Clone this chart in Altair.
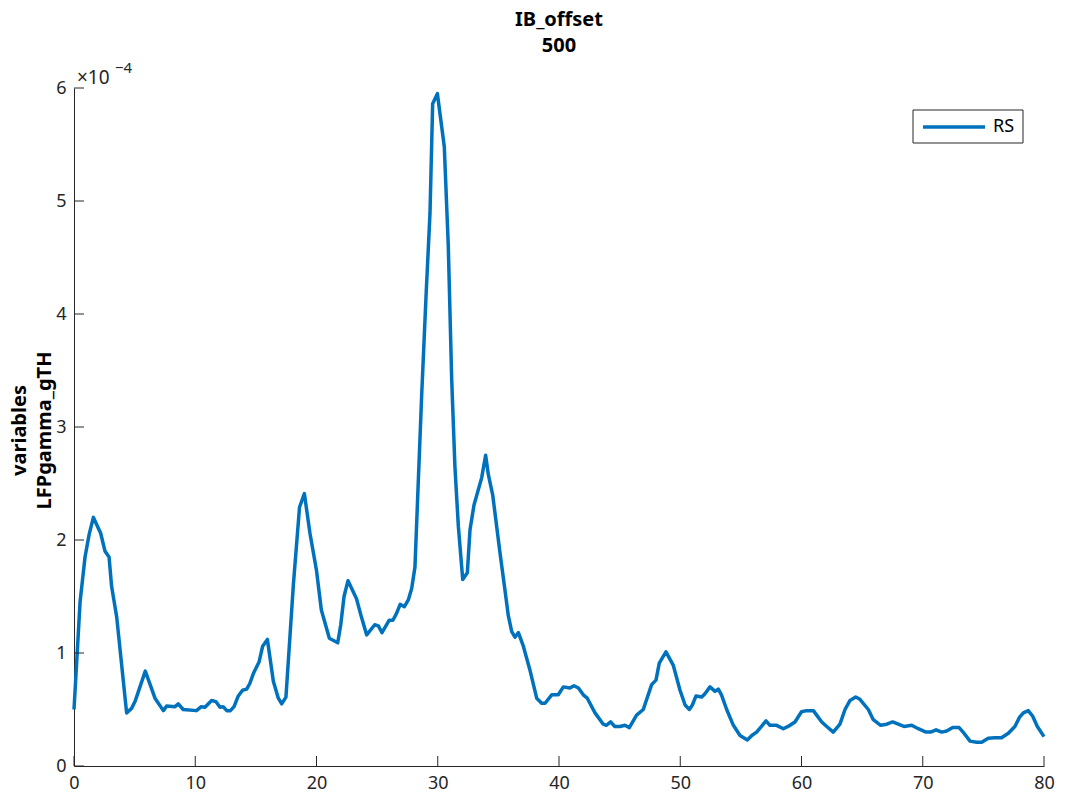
import altair as alt
import pandas as pd

# frequency (x) and LFPgamma_gTH value in units of 1e-4 (y)
freq = [0.0, 0.5, 0.91, 1.25, 1.6, 2.2, 2.56, 2.89, 3.1, 3.52,
        4.34, 4.75, 5.03, 5.88, 6.68, 7.37, 7.64, 8.33, 8.6, 9.0,
        10.1, 10.5, 10.8, 11.35, 11.7, 12.04, 12.3, 12.6, 12.9, 13.2,
        13.55, 13.9, 14.24, 14.5, 14.8, 15.26, 15.56, 15.95, 16.44, 16.85,
        17.13, 17.48, 18.09, 18.6, 19.0, 19.46, 20.0, 20.4, 21.06, 21.75,
        22.0, 22.27, 22.6, 23.3, 23.7, 24.14, 24.8, 25.1, 25.4, 26.0,
        26.3, 26.6, 26.9, 27.25, 27.57, 27.85, 28.12, 28.4, 28.67, 29.03,
        29.36, 29.58, 29.97, 30.54, 30.87, 31.15, 31.42, 31.7, 32.06, 32.44,
        32.66, 32.99, 33.62, 33.95, 34.17, 34.53, 35.13, 35.55, 35.82, 36.1,
        36.37, 36.65, 37.06, 37.6, 38.16, 38.57, 38.85, 39.4, 39.94, 40.36,
        40.9, 41.24, 41.6, 42.0, 42.33, 42.97, 43.65, 43.9, 44.26, 44.6,
        45.03, 45.44, 45.8, 46.4, 46.95, 47.64, 48.0, 48.27, 48.82, 49.43,
        49.98, 50.4, 50.75, 51.0, 51.3, 51.77, 52.04, 52.45, 52.87, 53.14,
        53.4, 53.83, 54.38, 54.93, 55.53, 55.9, 56.3, 56.7, 57.07, 57.4,
        57.95, 58.5, 59.05, 59.46, 60.0, 60.43, 60.98, 61.25, 61.67, 62.08,
        62.62, 63.17, 63.59, 64.0, 64.47, 64.82, 65.51, 65.92, 66.53, 67.03,
        67.52, 67.99, 68.45, 69.09, 69.63, 70.27, 70.65, 71.1, 71.56, 71.97,
        72.47, 73.0, 73.4, 73.9, 74.45, 74.86, 75.4, 75.96, 76.5, 77.06,
        77.6, 77.97, 78.3, 78.7, 79.07, 79.45, 80.0]

value = [0.50, 1.45, 1.85, 2.05, 2.20, 2.06, 1.90, 1.85, 1.59, 1.32,
         0.47, 0.51, 0.57, 0.84, 0.60, 0.49, 0.53, 0.525, 0.55, 0.50,
         0.49, 0.525, 0.52, 0.58, 0.57, 0.52, 0.525, 0.49, 0.49, 0.525,
         0.62, 0.67, 0.68, 0.73, 0.82, 0.92, 1.06, 1.12, 0.75, 0.60,
         0.55, 0.61, 1.60, 2.29, 2.41, 2.06, 1.73, 1.38, 1.13, 1.09,
         1.25, 1.50, 1.64, 1.48, 1.32, 1.16, 1.25, 1.24, 1.18, 1.29,
         1.29, 1.35, 1.43, 1.41, 1.47, 1.57, 1.76, 2.53, 3.27, 4.15,
         4.89, 5.86, 5.95, 5.48, 4.60, 3.42, 2.64, 2.12, 1.65, 1.71,
         2.09, 2.31, 2.55, 2.75, 2.58, 2.40, 1.89, 1.55, 1.33, 1.19,
         1.14, 1.18, 1.06, 0.85, 0.60, 0.555, 0.555, 0.63, 0.63, 0.70,
         0.69, 0.71, 0.69, 0.63, 0.60, 0.47, 0.37, 0.36, 0.39, 0.35,
         0.35, 0.36, 0.34, 0.45, 0.50, 0.72, 0.76, 0.91, 1.01, 0.89,
         0.67, 0.54, 0.50, 0.54, 0.62, 0.61, 0.64, 0.70, 0.66, 0.68,
         0.63, 0.50, 0.36, 0.27, 0.23, 0.27, 0.30, 0.35, 0.40, 0.36,
         0.36, 0.33, 0.36, 0.39, 0.48, 0.49, 0.49, 0.45, 0.39, 0.35,
         0.30, 0.37, 0.50, 0.58, 0.61, 0.59, 0.50, 0.41, 0.36, 0.37,
         0.39, 0.37, 0.35, 0.36, 0.33, 0.30, 0.30, 0.32, 0.30, 0.31,
         0.34, 0.34, 0.29, 0.22, 0.21, 0.21, 0.245, 0.25, 0.25, 0.29,
         0.35, 0.43, 0.47, 0.49, 0.44, 0.35, 0.26]

series_name = ["RS"]
x_ticks = [0, 10, 20, 30, 40, 50, 60, 70, 80]
y_ticks = [0, 1, 2, 3, 4, 5, 6]

FONT = "Noto Sans"
AX = "#262626"
BLUE = "#0072BD"

W, H = 970, 678

df = pd.DataFrame({"x": freq, "y": value})
xt = pd.DataFrame({"t": x_ticks})
yt = pd.DataFrame({"t": y_ticks})
leg = pd.DataFrame({"name": series_name})

xscale = alt.Scale(domain=[0, 80], nice=False, zero=False)
yscale = alt.Scale(domain=[0, 6], nice=False, zero=False)

line = alt.Chart(df).mark_line(strokeWidth=3.5, strokeJoin="round", color=BLUE).encode(
    x=alt.X("x:Q", scale=xscale,
            axis=alt.Axis(values=x_ticks, title="", ticks=False, labelPadding=8,
                          labelFlush=False, format="d")),
    y=alt.Y("y:Q", scale=yscale,
            axis=alt.Axis(values=y_ticks, title=["variables", "LFPgamma_gTH"],
                          ticks=False, labelPadding=8, labelFlush=False, format="d",
                          titleFontSize=20, titleFontWeight="bold",
                          titleFont=FONT, titleColor="#000000", titleLineHeight=25,
                          titleX=-49, titleY=342, titleBaseline="alphabetic",
                          titleAlign="center", titleAngle=270)),
)

xticks = alt.Chart(xt).mark_rule(color=AX, strokeWidth=1).encode(
    x=alt.X("t:Q", scale=xscale), y=alt.value(H), y2=alt.value(H - 10))
yticks = alt.Chart(yt).mark_rule(color=AX, strokeWidth=1).encode(
    y=alt.Y("t:Q", scale=yscale), x=alt.value(0), x2=alt.value(10))

exp_base = alt.Chart(leg).mark_text(
    text="×10", font=FONT, fontSize=19, color=AX, align="left", baseline="alphabetic"
).encode(x=alt.value(3), y=alt.value(-4))
exp_sup = alt.Chart(leg).mark_text(
    text="−4", font=FONT, fontSize=15, color=AX, align="left", baseline="alphabetic"
).encode(x=alt.value(41), y=alt.value(-15))

# legend box
leg_box = alt.Chart(leg).mark_rect(fill="#ffffff", stroke=AX, strokeWidth=1).encode(
    x=alt.value(839), x2=alt.value(949), y=alt.value(22), y2=alt.value(55))
leg_line = alt.Chart(leg).mark_rule(color=BLUE, strokeWidth=3.5).encode(
    x=alt.value(849), x2=alt.value(911), y=alt.value(39))
leg_text = alt.Chart(leg).mark_text(
    font=FONT, fontSize=18, color="#000000", align="left", baseline="middle"
).encode(x=alt.value(919), y=alt.value(39), text="name:N")

chart = alt.layer(line, xticks, yticks, exp_base, exp_sup, leg_box, leg_line, leg_text).properties(
    width=W, height=H,
    title=alt.TitleParams(["IB_offset", "500"], fontSize=20, fontWeight="bold",
                          font=FONT, color="#000000", anchor="middle",
                          lineHeight=26, offset=5),
    autosize=alt.AutoSizeParams(type="none"),
    padding={"left": 66, "top": 80, "right": 13, "bottom": 30},
).configure_view(stroke=None).configure_axis(
    domainColor=AX, domainWidth=1, grid=False, labelFont=FONT, labelFontSize=18,
    labelColor=AX,
)

chart.save("out.html", embed_options={"renderer": "svg", "actions": False})
